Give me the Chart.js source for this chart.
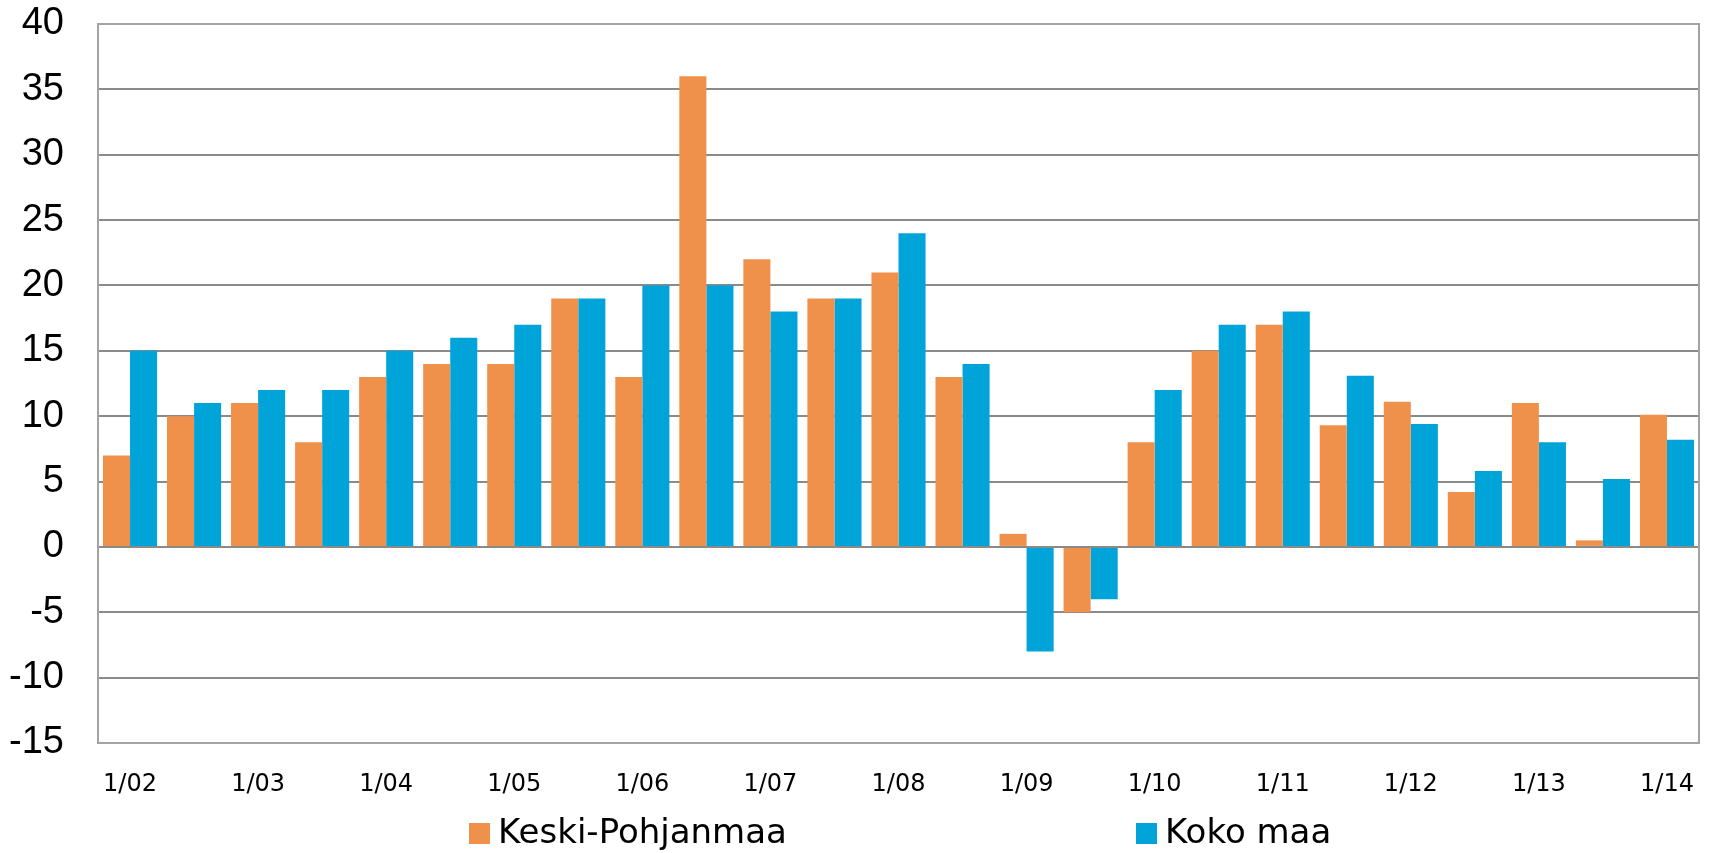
<!DOCTYPE html>
<html>
<head>
<meta charset="utf-8">
<script src="https://cdn.jsdelivr.net/npm/chart.js@4.4.0/dist/chart.umd.min.js"></script>
<style>
  body { margin: 0; background: #fff; }
  #wrap { position: relative; width: 1712px; height: 853px; overflow: hidden; }
  #legend { position: absolute; left: 0; top: 0; width: 1712px; height: 853px; pointer-events: none;
    font-family: "DejaVu Sans", Verdana, sans-serif; font-size: 34px; line-height: 34px; color: #000; }
  .box { position: absolute; top: 823px; width: 21px; height: 21px; }
  .txt { position: absolute; top: 814px; white-space: nowrap; }
</style>
</head>
<body>
<div id="wrap">
  <canvas id="chart" width="1712" height="853"></canvas>
  <div id="legend"></div>
</div>
<script>
// half-year points, label shown only for January
const periods = [
  "1/02", "7/02", "1/03", "7/03", "1/04", "7/04", "1/05", "7/05", "1/06", "7/06",
  "1/07", "7/07", "1/08", "7/08", "1/09", "7/09", "1/10", "7/10", "1/11", "7/11",
  "1/12", "7/12", "1/13", "7/13", "1/14"
];
const keskiPohjanmaa = [7, 10, 11, 8, 13, 14, 14, 19, 13, 36, 22, 19, 21, 13, 1, -5, 8, 15, 17, 9.3, 11.1, 4.2, 11, 0.5, 10.1];
const kokoMaa = [15, 11, 12, 12, 15, 16, 17, 19, 20, 20, 18, 19, 24, 14, -8, -4, 12, 17, 18, 13.1, 9.4, 5.8, 8, 5.2, 8.2];
const seriesNames = ["Keski-Pohjanmaa", "Koko maa"];
const seriesColors = ["#f0914b", "#00a4d9"];

// frame round the plot area
const frame = {
  id: "frame",
  afterDraw(chart) {
    const { ctx, chartArea: a } = chart;
    ctx.save();
    ctx.strokeStyle = "#a3a3a3";
    ctx.lineWidth = 2;
    ctx.strokeRect(a.left, a.top, a.right - a.left, a.bottom - a.top);
    ctx.restore();
  }
};

const chart = new Chart(document.getElementById("chart").getContext("2d"), {
  type: "bar",
  data: {
    labels: periods,
    datasets: [
      { label: seriesNames[0], data: keskiPohjanmaa, backgroundColor: seriesColors[0] },
      { label: seriesNames[1], data: kokoMaa, backgroundColor: seriesColors[1] }
    ]
  },
  options: {
    responsive: false,
    animation: false,
    devicePixelRatio: 1,
    layout: { padding: { top: 24, right: 13, left: 0, bottom: 0 } },
    datasets: { bar: { categoryPercentage: 0.845, barPercentage: 1.0 } },
    plugins: {
      legend: { display: false },
      tooltip: { enabled: false }
    },
    scales: {
      x: {
        grid: { display: false },
        border: { display: false },
        ticks: {
          autoSkip: false,
          maxRotation: 0,
          padding: 19,
          color: "#000",
          font: { family: '"DejaVu Sans", Verdana, sans-serif', size: 24 },
          callback: (v, i) => (i % 2 === 0 ? periods[i] : "")
        },
        afterFit: (s) => { s.height = 110; s.paddingLeft = 0; s.paddingRight = 0; }
      },
      y: {
        min: -15,
        max: 40,
        ticks: { stepSize: 5, padding: 34, color: "#000", font: { family: '"Liberation Sans", Arial, sans-serif', size: 38 } },
        grid: { color: "#8a8a8a", lineWidth: 2, drawTicks: false },
        border: { display: false },
        afterFit: (s) => { s.width = 98; s.paddingTop = 0; s.paddingBottom = 0; }
      }
    }
  },
  plugins: [frame]
});

// legend below the chart, items spread apart
const boxLeft = [469, 1136];
const legend = document.getElementById("legend");
chart.data.datasets.forEach((ds, i) => {
  const box = document.createElement("div");
  box.className = "box";
  box.style.left = boxLeft[i] + "px";
  box.style.background = ds.backgroundColor;
  legend.appendChild(box);
  const txt = document.createElement("div");
  txt.className = "txt";
  txt.style.left = (boxLeft[i] + 29) + "px";
  txt.textContent = ds.label;
  legend.appendChild(txt);
});
</script>
</body>
</html>
